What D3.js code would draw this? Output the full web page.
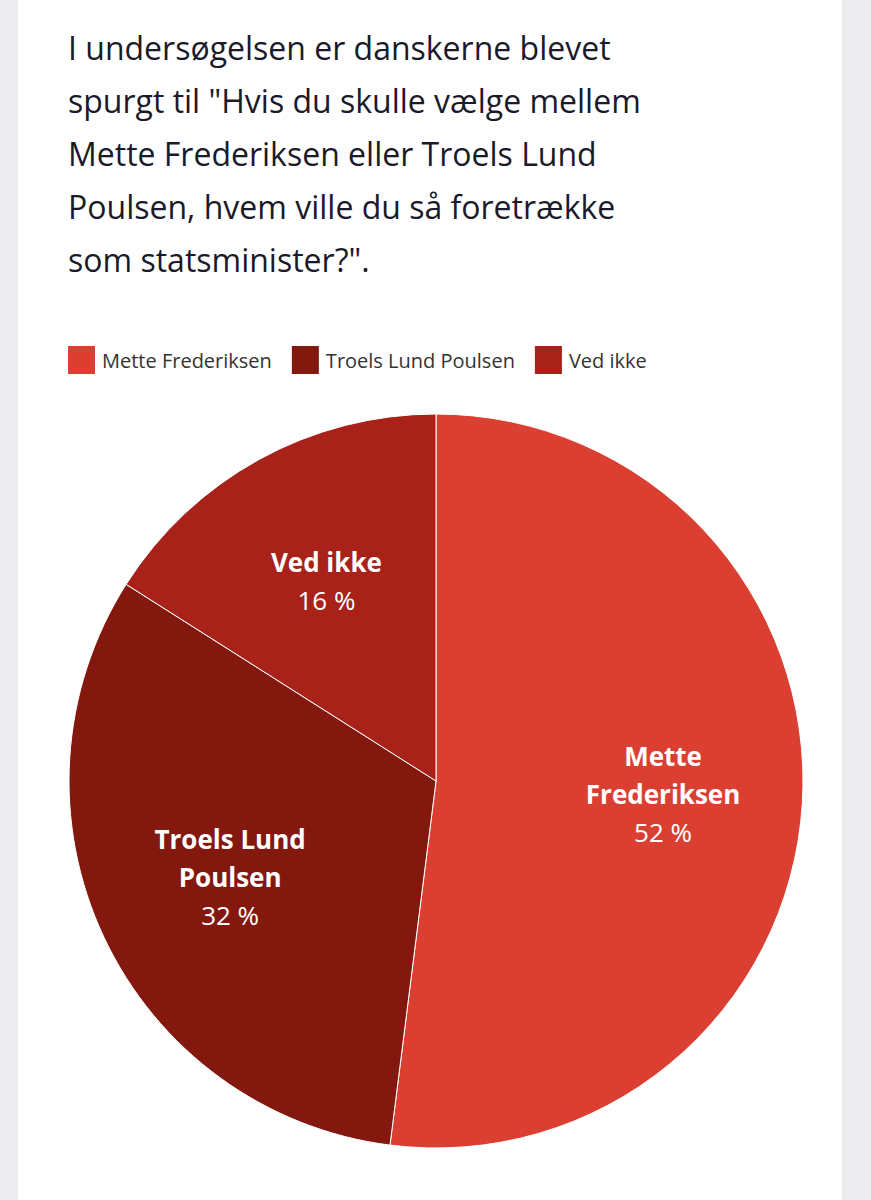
<!DOCTYPE html>
<html><head><meta charset="utf-8">
<script src="https://cdn.jsdelivr.net/npm/d3@7"></script>
<style>body{margin:0;background:#ececee;font-family:"Open Sans",sans-serif;}</style>
</head><body>
<div id="chart"></div>
<script>
const categories = ["Mette Frederiksen", "Troels Lund Poulsen", "Ved ikke"];
const values = [52, 32, 16];
const colors = ["#db3f31", "#83180f", "#a8221a"];
const labelLines = [["Mette", "Frederiksen"], ["Troels Lund", "Poulsen"], ["Ved ikke"]];
const titleLines = [
  "I undersøgelsen er danskerne blevet",
  "spurgt til \"Hvis du skulle vælge mellem",
  "Mette Frederiksen eller Troels Lund",
  "Poulsen, hvem ville du så foretrække",
  "som statsminister?\"."
];

const W = 871, H = 1200;
const svg = d3.select("#chart").append("svg").attr("width", W).attr("height", H);
svg.append("rect").attr("x", 18).attr("y", 0).attr("width", 824).attr("height", H).attr("fill", "#fff");

svg.append("g").selectAll("text").data(titleLines).join("text")
  .attr("x", 68).attr("y", (d, i) => 60 + i * 53)
  .attr("font-size", 32).attr("fill", "#1a1a2a").text(d => d);

// legend
let lx = 68;
const leg = svg.append("g");
categories.forEach((c, i) => {
  leg.append("rect").attr("x", lx).attr("y", 346).attr("width", 27).attr("height", 28).attr("fill", colors[i]);
  const t = leg.append("text").attr("x", lx + 34).attr("y", 368).attr("font-size", 20)
    .attr("fill", "#333").text(c);
  lx += 34 + t.node().getComputedTextLength() + 20;
});

const cx = 436, cy = 781, r = 367;
const pie = d3.pie().sort(null).value(d => d)(values);
const arc = d3.arc().innerRadius(0).outerRadius(r);
const g = svg.append("g").attr("transform", `translate(${cx},${cy})`);
g.selectAll("path").data(pie).join("path")
  .attr("d", arc).attr("fill", (d, i) => colors[i])
  .attr("stroke", "#fff").attr("stroke-width", 1);

const labelArc = d3.arc().innerRadius(r * 0.62).outerRadius(r * 0.62);
pie.forEach((d, i) => {
  const [x, y] = labelArc.centroid(d);
  const lines = labelLines[i];
  const total = lines.length + 1;
  const t = g.append("text").attr("text-anchor", "middle").attr("fill", "#fff").attr("font-size", 26);
  lines.forEach((l, j) => {
    t.append("tspan").attr("x", x).attr("y", y + (j - (total - 1) / 2) * 38 + 9)
      .attr("font-weight", "bold").text(l);
  });
  t.append("tspan").attr("x", x).attr("y", y + (lines.length - (total - 1) / 2) * 38 + 9)
    .text(values[i] + " %");
});
</script>
</body></html>
